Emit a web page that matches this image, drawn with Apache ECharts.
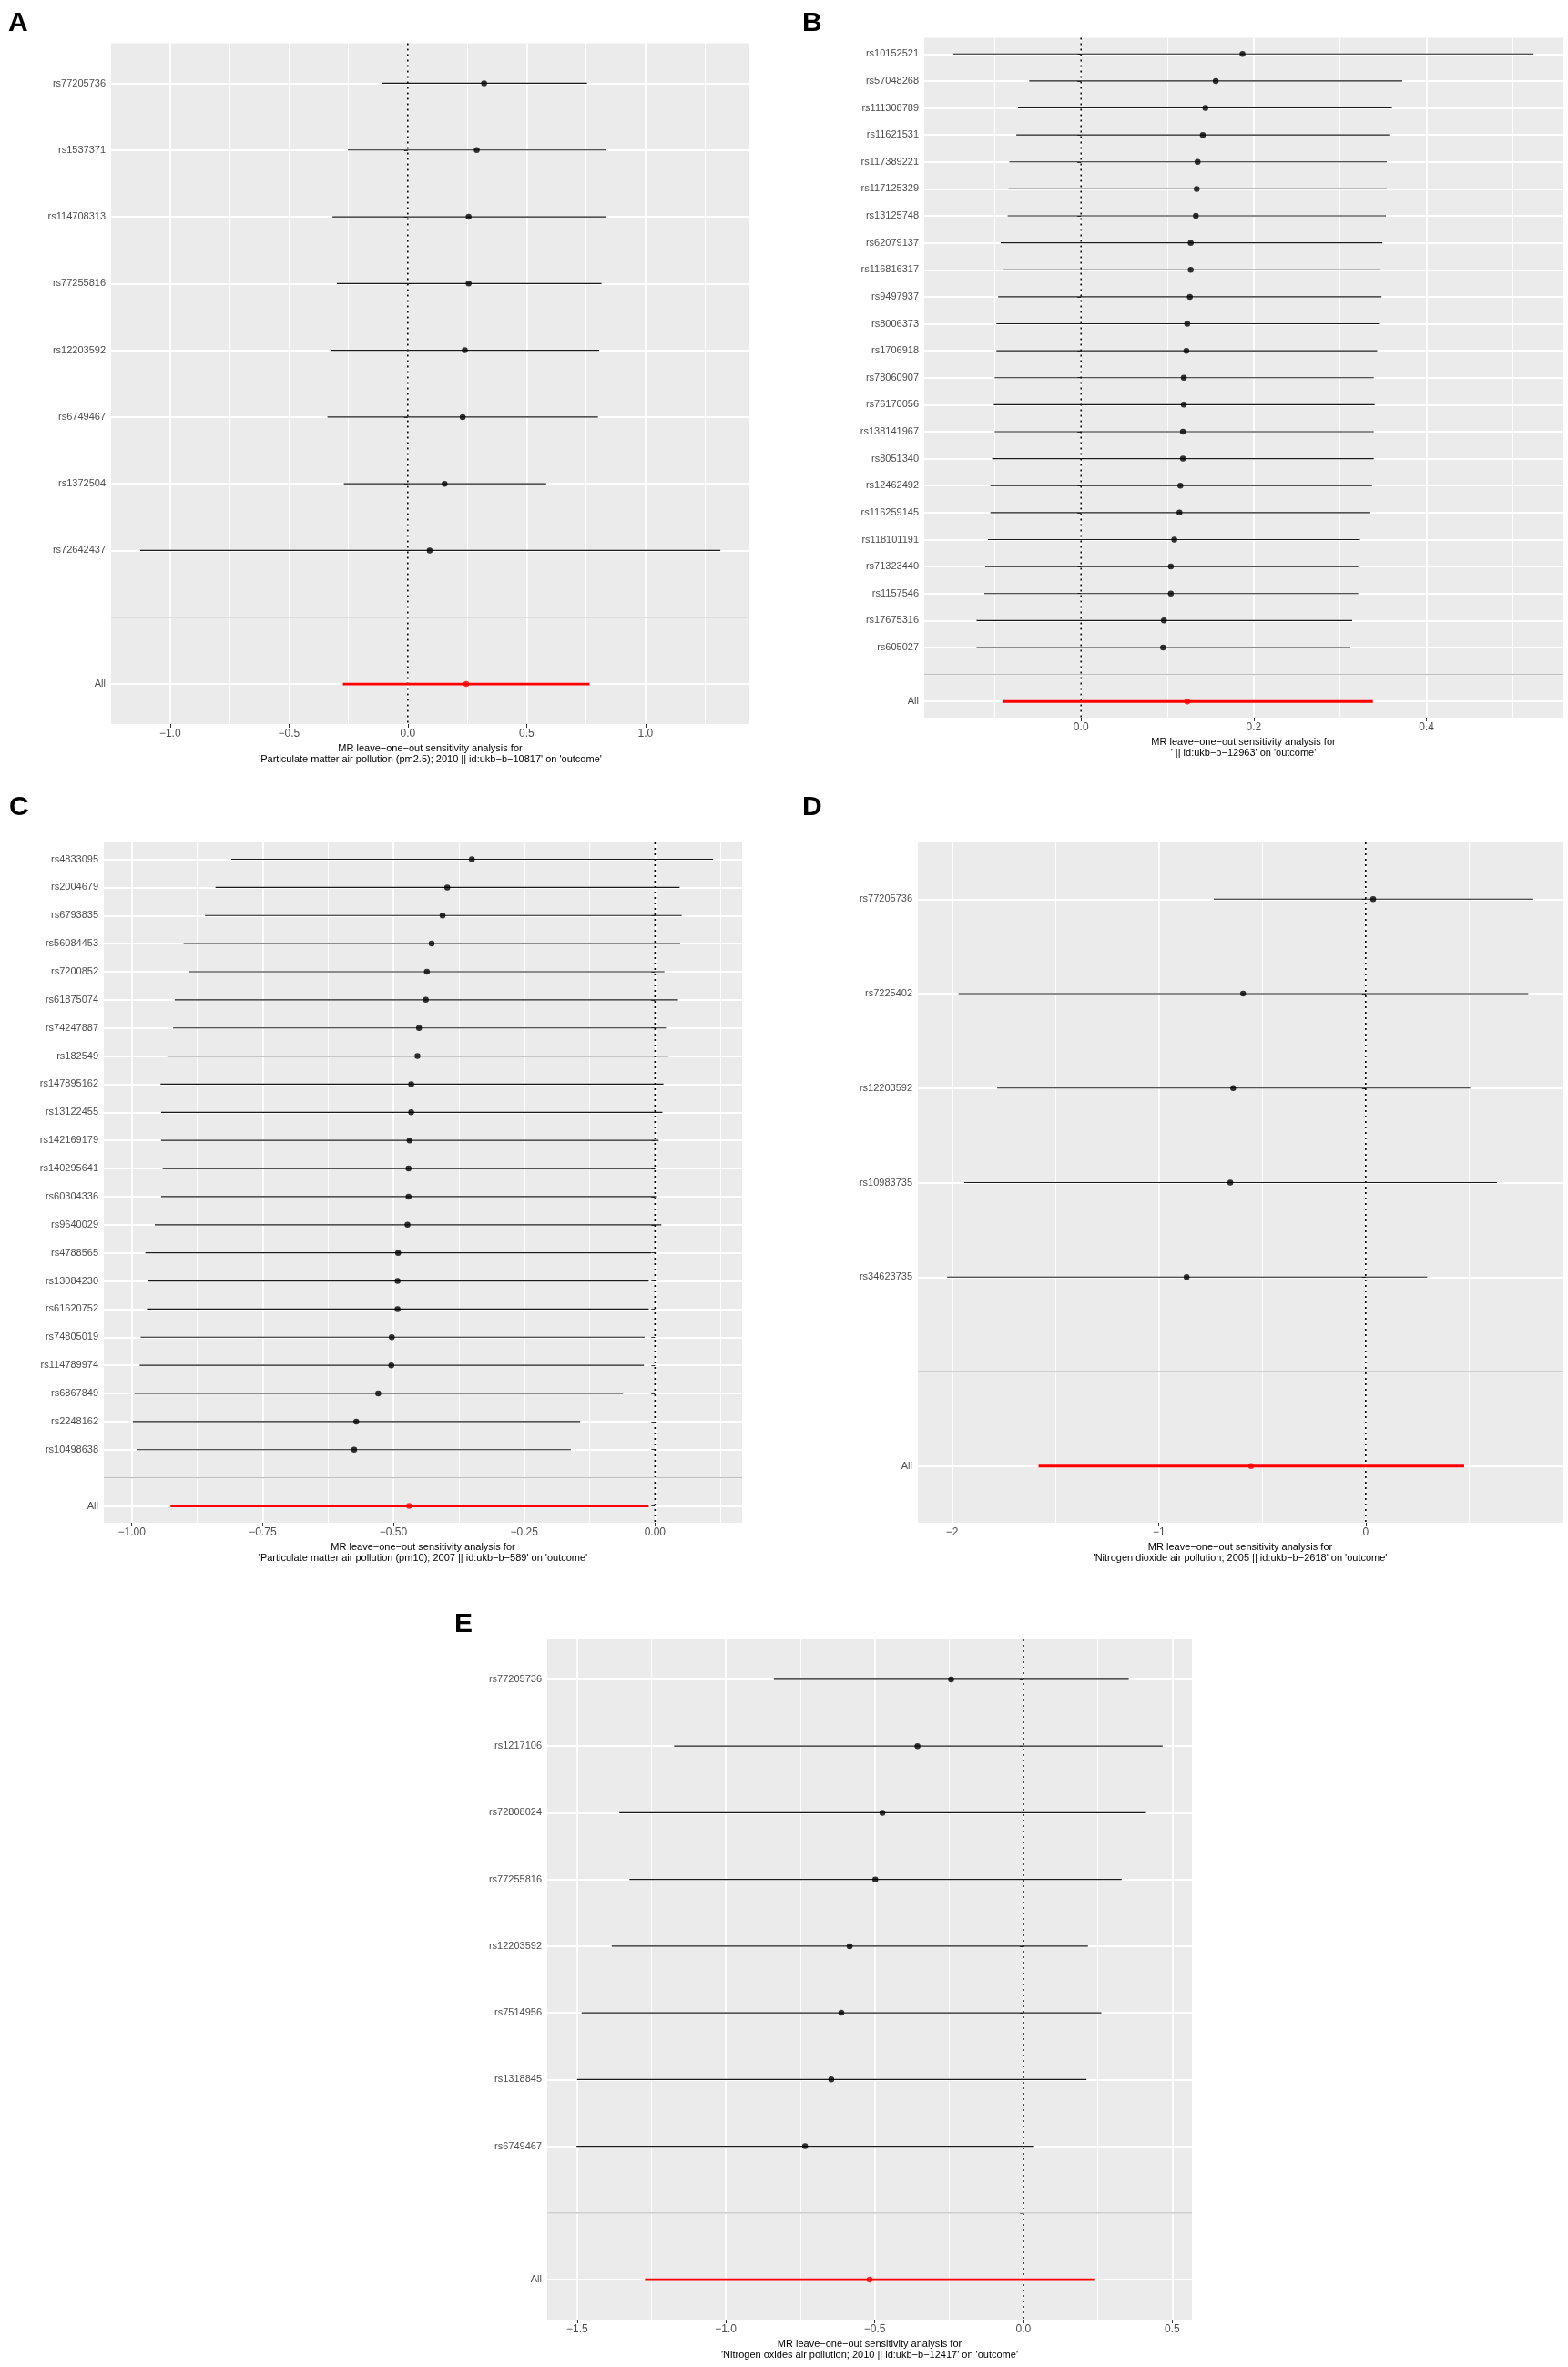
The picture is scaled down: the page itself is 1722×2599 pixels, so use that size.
<!DOCTYPE html>
<html><head><meta charset="utf-8">
<style>html,body{margin:0;padding:0;background:#fff}#c{width:1722px;height:2599px}</style>
<script src="https://cdn.jsdelivr.net/npm/echarts@6/dist/echarts.min.js"></script>
</head><body><div id="c"></div><script>
// ---------- Panel A ----------
const aSnps = ['rs77205736','rs1537371','rs114708313','rs77255816','rs12203592','rs6749467','rs1372504','rs72642437'];
const aBeta = [0.321,0.290,0.256,0.256,0.240,0.231,0.155,0.092];
const aLo = [-0.107,-0.252,-0.317,-0.298,-0.324,-0.338,-0.269,-1.126];
const aHi = [0.754,0.834,0.832,0.815,0.805,0.800,0.582,1.315];
const aAll = [0.246,-0.273,0.765];
const aTicks = [-1.0,-0.5,0.0,0.5,1.0];
const aMinor = [-0.75,-0.25,0.25,0.75,1.25];
const aTitle = "MR leave\u2212one\u2212out sensitivity analysis for\n'Particulate matter air pollution (pm2.5); 2010 || id:ukb\u2212b\u221210817' on 'outcome'";

// ---------- Panel B ----------
const bSnps = ['rs10152521','rs57048268','rs111308789','rs11621531','rs117389221','rs117125329','rs13125748','rs62079137','rs116816317','rs9497937','rs8006373','rs1706918','rs78060907','rs76170056','rs138141967','rs8051340','rs12462492','rs116259145','rs118101191','rs71323440','rs1157546','rs17675316','rs605027'];
const bBeta = [0.187,0.156,0.144,0.141,0.135,0.134,0.133,0.127,0.127,0.126,0.123,0.122,0.119,0.119,0.118,0.118,0.115,0.114,0.108,0.104,0.104,0.096,0.095];
const bLo = [-0.148,-0.060,-0.073,-0.075,-0.083,-0.084,-0.085,-0.093,-0.091,-0.096,-0.098,-0.098,-0.100,-0.101,-0.100,-0.103,-0.105,-0.105,-0.108,-0.111,-0.112,-0.121,-0.121];
const bHi = [0.524,0.372,0.360,0.357,0.354,0.354,0.353,0.349,0.347,0.348,0.345,0.343,0.339,0.340,0.339,0.339,0.337,0.335,0.323,0.321,0.321,0.314,0.312];
const bAll = [0.123,-0.091,0.338];
const bTicks = [0.0,0.2,0.4];
const bMinor = [-0.1,0.1,0.3,0.5];
const bTitle = "MR leave\u2212one\u2212out sensitivity analysis for\n' || id:ukb\u2212b\u221212963' on 'outcome'";

// ---------- Panel C ----------
const cSnps = ['rs4833095','rs2004679','rs6793835','rs56084453','rs7200852','rs61875074','rs74247887','rs182549','rs147895162','rs13122455','rs142169179','rs140295641','rs60304336','rs9640029','rs4788565','rs13084230','rs61620752','rs74805019','rs114789974','rs6867849','rs2248162','rs10498638'];
const cBeta = [-0.350,-0.397,-0.406,-0.427,-0.436,-0.438,-0.451,-0.454,-0.466,-0.466,-0.469,-0.471,-0.471,-0.473,-0.491,-0.492,-0.492,-0.503,-0.504,-0.529,-0.571,-0.575];
const cLo = [-0.810,-0.840,-0.860,-0.901,-0.890,-0.918,-0.921,-0.932,-0.945,-0.944,-0.944,-0.941,-0.944,-0.956,-0.974,-0.970,-0.971,-0.983,-0.985,-0.995,-0.998,-0.990];
const cHi = [0.111,0.047,0.051,0.048,0.018,0.044,0.021,0.026,0.016,0.014,0.007,0.000,0.002,0.012,-0.007,-0.012,-0.012,-0.020,-0.021,-0.061,-0.143,-0.161];
const cAll = [-0.470,-0.926,-0.012];
const cTicks = [-1.0,-0.75,-0.5,-0.25,0.0];
const cMinor = [-0.875,-0.625,-0.375,-0.125,0.125];
const cTitle = "MR leave\u2212one\u2212out sensitivity analysis for\n'Particulate matter air pollution (pm10); 2007 || id:ukb\u2212b\u2212589' on 'outcome'";

// ---------- Panel D ----------
const dSnps = ['rs77205736','rs7225402','rs12203592','rs10983735','rs34623735'];
const dBeta = [0.036,-0.593,-0.641,-0.655,-0.866];
const dLo = [-0.735,-1.969,-1.782,-1.942,-2.024];
const dHi = [0.810,0.786,0.505,0.634,0.297];
const dAll = [-0.554,-1.582,0.476];
const dTicks = [-2,-1,0];
const dMinor = [-1.5,-0.5,0.5];
const dTitle = "MR leave\u2212one\u2212out sensitivity analysis for\n'Nitrogen dioxide air pollution; 2005 || id:ukb\u2212b\u22122618' on 'outcome'";

// ---------- Panel E ----------
const eSnps = ['rs77205736','rs1217106','rs72808024','rs77255816','rs12203592','rs7514956','rs1318845','rs6749467'];
const eBeta = [-0.243,-0.356,-0.474,-0.498,-0.584,-0.612,-0.646,-0.734];
const eLo = [-0.839,-1.174,-1.358,-1.324,-1.384,-1.485,-1.500,-1.502];
const eHi = [0.354,0.468,0.412,0.330,0.217,0.262,0.212,0.036];
const eAll = [-0.517,-1.272,0.238];
const eTicks = [-1.5,-1.0,-0.5,0.0,0.5];
const eMinor = [-1.25,-0.75,-0.25,0.25];
const eTitle = "MR leave\u2212one\u2212out sensitivity analysis for\n'Nitrogen oxides air pollution; 2010 || id:ukb\u2212b\u221212417' on 'outcome'";

const panels = [
  {key:'A', snps:aSnps, beta:aBeta, lo:aLo, hi:aHi, all:aAll, ticks:aTicks, minor:aMinor, dec:1, title:aTitle},
  {key:'B', snps:bSnps, beta:bBeta, lo:bLo, hi:bHi, all:bAll, ticks:bTicks, minor:bMinor, dec:1, title:bTitle},
  {key:'C', snps:cSnps, beta:cBeta, lo:cLo, hi:cHi, all:cAll, ticks:cTicks, minor:cMinor, dec:2, title:cTitle},
  {key:'D', snps:dSnps, beta:dBeta, lo:dLo, hi:dHi, all:dAll, ticks:dTicks, minor:dMinor, dec:0, title:dTitle},
  {key:'E', snps:eSnps, beta:eBeta, lo:eLo, hi:eHi, all:eAll, ticks:eTicks, minor:eMinor, dec:1, title:eTitle}
];

// layout (pixels)
const layout = [
  {left:122,  top:47.5, width:701, height:747.5, letter:[9,11]},
  {left:1015, top:41.5, width:701, height:746.5, letter:[881,11]},
  {left:114,  top:925,  width:701, height:747,   letter:[10,872]},
  {left:1008, top:925,  width:708, height:747,   letter:[881,872]},
  {left:601,  top:1800, width:708, height:747,   letter:[499,1769]}
];

const FONT = 'Liberation Sans, Arial, sans-serif';
const fmtNum = (v, dec) => v.toFixed(dec).replace('-', '\u2212');

const option = {animation:false, textStyle:{fontFamily:FONT}, title:[], grid:[], xAxis:[], yAxis:[], series:[]};

panels.forEach((p, i) => {
  const L = layout[i];
  const n = p.snps.length, N = n + 2;
  const labels = p.snps.concat(['', 'All']);
  const ys = labels.map((_, k) => k + 1);
  const lo = Math.min(...p.lo, p.all[1]), hi = Math.max(...p.hi, p.all[2]);
  const pad = (hi - lo) * 0.05;
  const xmin = lo - pad, xmax = hi + pad;

  option.title.push({text:p.key, left:L.letter[0], top:L.letter[1], padding:0,
    textStyle:{fontSize:30, fontWeight:'bold', color:'#000', fontFamily:FONT}});
  option.grid.push({left:L.left, top:L.top, width:L.width, height:L.height, show:true,
    backgroundColor:'#EBEBEB', borderWidth:0});

  option.xAxis.push({type:'value', gridIndex:i, min:xmin, max:xmax, position:'bottom',
    name:p.title, nameLocation:'middle', nameGap:21,
    nameTextStyle:{fontSize:11, color:'#000', lineHeight:12, fontFamily:FONT},
    axisLine:{show:false},
    axisTick:{show:true, length:4, lineStyle:{color:'#333', width:1}, customValues:p.ticks},
    axisLabel:{customValues:p.ticks, formatter:v => fmtNum(v, p.dec), color:'#4D4D4D', fontSize:12, margin:5, fontFamily:FONT},
    splitLine:{show:true, customValues:p.ticks, lineStyle:{color:'#FFFFFF', width:1.8}}
  });
  option.xAxis.push({type:'value', gridIndex:i, min:xmin, max:xmax, position:'top',
    axisLine:{show:false},
    axisTick:{show:false, customValues:p.minor},
    axisLabel:{show:false, customValues:p.minor},
    splitLine:{show:true, customValues:p.minor, lineStyle:{color:'#FFFFFF', width:0.9}}
  });
  option.yAxis.push({type:'value', gridIndex:i, inverse:true, min:0.4, max:N + 0.6,
    axisLine:{show:false},
    axisTick:{show:true, length:4, lineStyle:{color:'#333', width:1}, customValues:ys},
    axisLabel:{customValues:ys, formatter:v => labels[Math.round(v) - 1] || '', color:'#4D4D4D', fontSize:11, margin:6, fontFamily:FONT},
    splitLine:{show:true, customValues:ys, lineStyle:{color:'#FFFFFF', width:1.8}}
  });

  const xi = 2 * i;
  const barRender = (color, w) => (params, api) => {
    const a = api.coord([api.value(0), api.value(2)]);
    const b = api.coord([api.value(1), api.value(2)]);
    return {type:'line', shape:{x1:a[0], y1:a[1], x2:b[0], y2:b[1]}, style:{stroke:color, lineWidth:w}};
  };

  // zero reference line (dotted)
  option.series.push({type:'line', xAxisIndex:xi, yAxisIndex:i, data:[[0, 0.4], [0, N + 0.6]],
    symbol:'none', silent:true, z:2, lineStyle:{color:'#000', width:1.6, type:[2, 4]}});
  // separator line at blank slot
  option.series.push({type:'line', xAxisIndex:xi, yAxisIndex:i, data:[[xmin, n + 1], [xmax, n + 1]],
    symbol:'none', silent:true, z:2, lineStyle:{color:'#BEBEBE', width:1.3}});
  // SNP error bars
  option.series.push({type:'custom', xAxisIndex:xi, yAxisIndex:i, silent:true, z:3,
    renderItem:barRender('#1a1a1a', 1.2), encode:{x:[0, 1], y:2},
    data:p.snps.map((s, k) => [p.lo[k], p.hi[k], k + 1])});
  // SNP points
  option.series.push({type:'scatter', xAxisIndex:xi, yAxisIndex:i, silent:true, z:4,
    symbolSize:6.5, itemStyle:{color:'#000'}, data:p.beta.map((b, k) => [b, k + 1])});
  // All bar and point
  option.series.push({type:'custom', xAxisIndex:xi, yAxisIndex:i, silent:true, z:3,
    renderItem:barRender('#FF0000', 2.8), encode:{x:[0, 1], y:2},
    data:[[p.all[1], p.all[2], N]]});
  option.series.push({type:'scatter', xAxisIndex:xi, yAxisIndex:i, silent:true, z:4,
    symbolSize:6.5, itemStyle:{color:'#FF0000'}, data:[[p.all[0], N]]});
});

const chart = echarts.init(document.getElementById('c'), null, {renderer:'canvas'});
chart.setOption(option);
</script></body></html>
